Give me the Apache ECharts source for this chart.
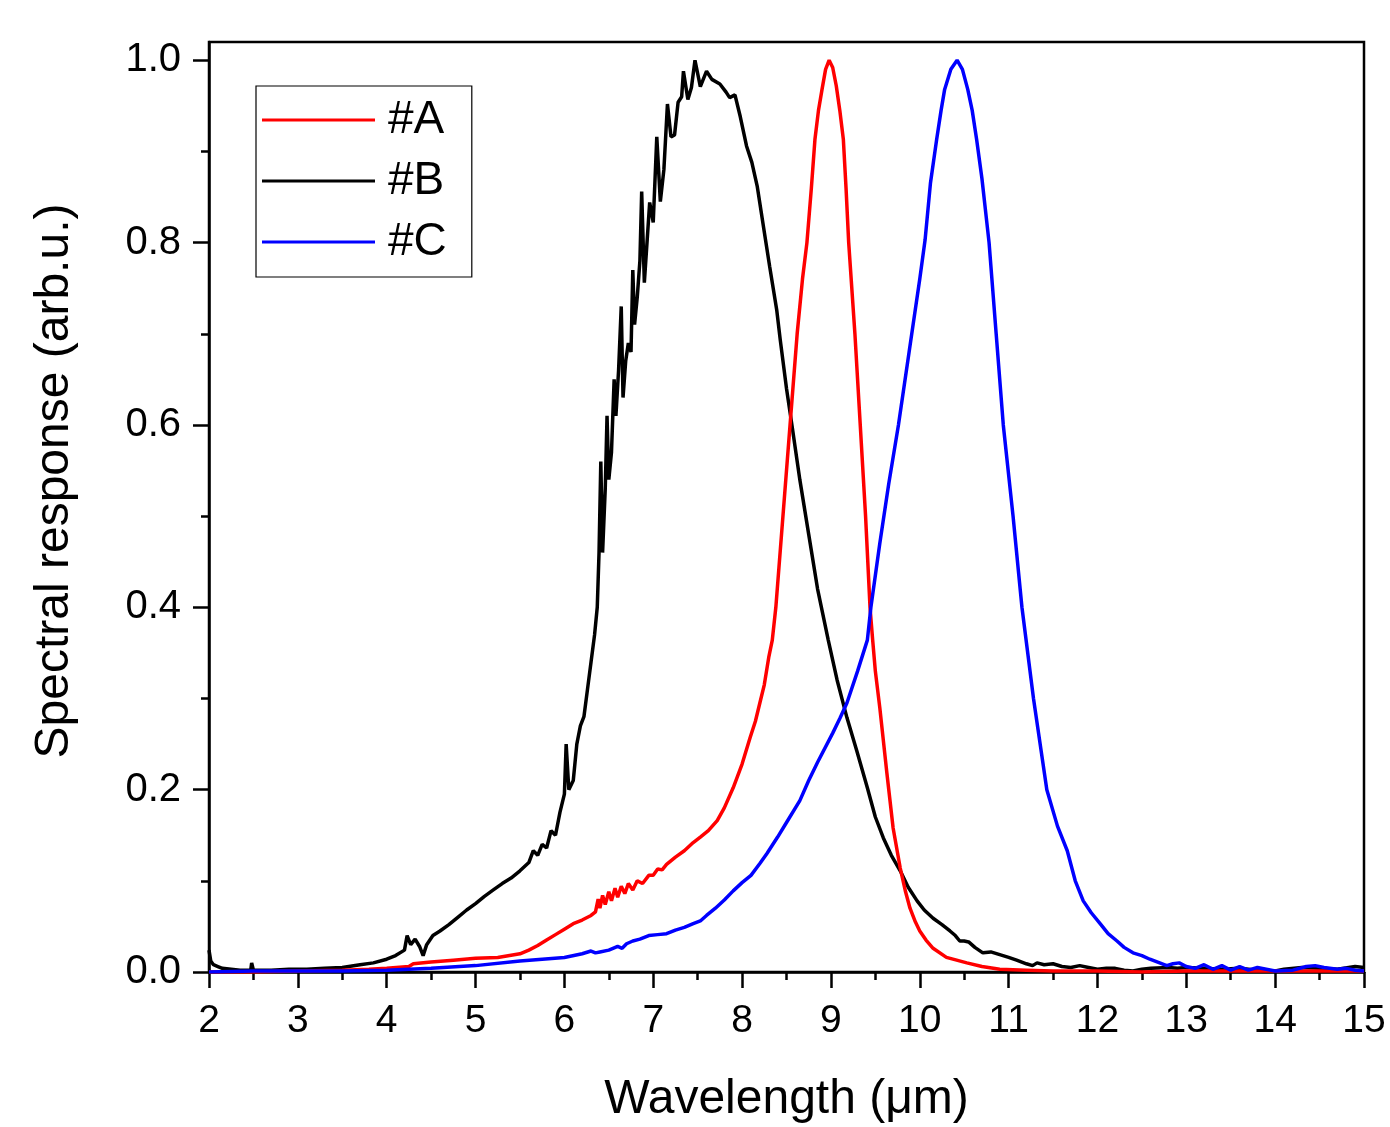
<!DOCTYPE html>
<html>
<head>
<meta charset="utf-8">
<script src="https://cdn.jsdelivr.net/npm/echarts@6/dist/echarts.min.js"></script>
<style>html,body{margin:0;padding:0;background:#fff}#c{width:1390px;height:1127px}</style>
</head>
<body>
<div id="c"></div>
<script>
// ---- data ----
const seriesNames = ['#A', '#B', '#C'];
const yTickValues = [0, 0.2, 0.4, 0.6, 0.8, 1.0];
const yMinorValues = [0.1, 0.3, 0.5, 0.7, 0.9];

const xA = [2.0,2.5,3.0,3.5,3.8,4.0,4.25,4.3,4.5,4.75,5.0,5.25,5.5,5.6,5.7,5.8,5.9,6.0,6.1,6.2,6.3,6.35,6.38,6.40,6.43,6.46,6.50,6.53,6.57,6.60,6.64,6.68,6.72,6.77,6.82,6.88,6.95,7.0,7.05,7.1,7.15,7.25,7.35,7.45,7.53,7.62,7.72,7.80,7.90,8.0,8.09,8.15,8.20,8.25,8.30,8.34,8.38,8.46,8.54,8.62,8.68,8.73,8.78,8.82,8.86,8.90,8.94,8.98,9.02,9.06,9.10,9.14,9.17,9.20,9.27,9.33,9.39,9.44,9.47,9.50,9.55,9.63,9.70,9.78,9.84,9.89,9.95,10.0,10.07,10.15,10.3,10.53,10.7,10.9,11.2,11.5,12.0,12.5,13.0,13.5,14.0,14.5,15.0];
const yA = [0.0,0.0,0.001,0.002,0.003,0.004,0.006,0.009,0.011,0.013,0.015,0.016,0.020,0.024,0.029,0.035,0.041,0.047,0.053,0.057,0.062,0.066,0.080,0.070,0.084,0.074,0.088,0.078,0.092,0.082,0.094,0.086,0.097,0.090,0.100,0.097,0.106,0.106,0.113,0.112,0.118,0.126,0.133,0.142,0.148,0.155,0.166,0.180,0.202,0.228,0.257,0.275,0.295,0.315,0.345,0.364,0.40,0.50,0.60,0.70,0.76,0.80,0.86,0.913,0.945,0.968,0.99,1.0,0.992,0.972,0.945,0.913,0.86,0.80,0.70,0.60,0.50,0.40,0.364,0.33,0.29,0.218,0.158,0.114,0.088,0.070,0.055,0.045,0.035,0.026,0.016,0.010,0.006,0.003,0.002,0.001,0.001,0.0,0.001,0.001,0.001,0.001,0.001];

const xB = [2.00,2.02,2.05,2.10,2.15,2.25,2.35,2.47,2.48,2.50,2.7,2.9,3.1,3.3,3.5,3.7,3.85,4.0,4.1,4.2,4.23,4.27,4.32,4.37,4.41,4.45,4.52,4.6,4.7,4.8,4.9,5.0,5.1,5.2,5.3,5.4,5.5,5.6,5.65,5.7,5.75,5.8,5.85,5.9,5.95,6.0,6.02,6.05,6.1,6.14,6.18,6.22,6.26,6.3,6.34,6.37,6.39,6.41,6.43,6.46,6.48,6.50,6.53,6.56,6.58,6.61,6.64,6.66,6.69,6.72,6.75,6.77,6.79,6.82,6.85,6.87,6.90,6.93,6.96,7.00,7.04,7.08,7.12,7.16,7.20,7.24,7.28,7.32,7.34,7.39,7.43,7.47,7.53,7.60,7.66,7.75,7.82,7.86,7.92,7.98,8.05,8.11,8.17,8.24,8.31,8.39,8.43,8.50,8.57,8.65,8.75,8.85,8.97,9.07,9.18,9.29,9.41,9.5,9.59,9.68,9.78,9.87,9.97,10.05,10.15,10.25,10.34,10.40,10.45,10.50,10.55,10.62,10.71,10.8,10.9,11.0,11.09,11.2,11.27,11.32,11.4,11.5,11.6,11.7,11.8,11.9,12.0,12.1,12.2,12.3,12.4,12.5,12.6,12.8,12.9,13.0,13.2,13.4,13.6,13.8,14.0,14.1,14.3,14.5,14.7,14.9,15.0];
const yB = [0.024,0.012,0.008,0.006,0.004,0.003,0.002,0.002,0.010,0.002,0.002,0.003,0.003,0.004,0.005,0.008,0.010,0.014,0.018,0.024,0.040,0.030,0.036,0.028,0.018,0.030,0.040,0.045,0.052,0.060,0.068,0.075,0.083,0.090,0.097,0.103,0.111,0.120,0.133,0.128,0.140,0.136,0.155,0.150,0.175,0.195,0.250,0.200,0.210,0.250,0.270,0.280,0.310,0.340,0.370,0.400,0.460,0.560,0.460,0.530,0.610,0.540,0.570,0.650,0.610,0.660,0.730,0.630,0.670,0.690,0.680,0.770,0.710,0.740,0.780,0.856,0.756,0.800,0.844,0.822,0.916,0.845,0.880,0.952,0.916,0.918,0.954,0.960,0.988,0.957,0.970,1.0,0.971,0.988,0.979,0.974,0.965,0.959,0.962,0.938,0.906,0.888,0.862,0.818,0.774,0.726,0.693,0.640,0.594,0.540,0.480,0.420,0.364,0.320,0.279,0.243,0.202,0.170,0.147,0.128,0.111,0.093,0.078,0.068,0.059,0.052,0.045,0.040,0.034,0.034,0.033,0.027,0.021,0.022,0.019,0.016,0.013,0.009,0.007,0.010,0.008,0.009,0.006,0.005,0.007,0.005,0.003,0.004,0.004,0.002,0.001,0.003,0.004,0.005,0.004,0.005,0.004,0.003,0.004,0.002,0.001,0.003,0.005,0.004,0.003,0.006,0.005];

const xC = [2.0,2.5,3.0,3.5,4.0,4.5,5.0,5.5,6.0,6.2,6.3,6.35,6.4,6.5,6.6,6.65,6.7,6.77,6.85,6.95,7.05,7.15,7.25,7.35,7.45,7.53,7.6,7.7,7.8,7.90,8.0,8.1,8.2,8.28,8.4,8.5,8.65,8.75,8.85,9.02,9.10,9.18,9.30,9.41,9.45,9.55,9.65,9.76,9.88,10.0,10.06,10.12,10.19,10.24,10.28,10.35,10.42,10.48,10.54,10.59,10.64,10.70,10.78,10.86,10.94,11.05,11.15,11.28,11.43,11.55,11.66,11.75,11.84,11.93,12.03,12.12,12.22,12.3,12.4,12.5,12.59,12.7,12.78,12.85,12.92,13.0,13.1,13.2,13.3,13.4,13.5,13.6,13.7,13.8,13.9,14.0,14.2,14.35,14.45,14.55,14.7,14.8,14.9,15.0];
const yC = [0.0,0.001,0.001,0.001,0.002,0.004,0.007,0.012,0.016,0.020,0.023,0.021,0.022,0.024,0.028,0.026,0.031,0.034,0.036,0.040,0.041,0.042,0.046,0.049,0.053,0.056,0.062,0.070,0.079,0.089,0.098,0.106,0.119,0.130,0.148,0.164,0.188,0.210,0.230,0.262,0.278,0.295,0.330,0.364,0.400,0.470,0.535,0.600,0.680,0.760,0.803,0.865,0.913,0.945,0.968,0.990,1.0,0.990,0.968,0.945,0.913,0.870,0.800,0.700,0.600,0.500,0.400,0.300,0.200,0.160,0.133,0.100,0.078,0.065,0.053,0.042,0.034,0.027,0.021,0.018,0.014,0.010,0.007,0.009,0.010,0.006,0.004,0.008,0.003,0.007,0.002,0.006,0.002,0.005,0.003,0.001,0.002,0.006,0.007,0.005,0.003,0.004,0.002,0.001];

const zip = (xs, ys) => xs.map((x, i) => [x, ys[i]]);

const FONT = 'Liberation Sans, Arial, sans-serif';
const chart = echarts.init(document.getElementById('c'), null, {renderer: 'canvas'});
const lineW = 3.5;
const option = {
  animation: false,
  backgroundColor: '#fff',
  grid: {left: 209, right: 26, top: 42, bottom: 155, outerBoundsMode: 'none', containLabel: false, show: true, borderColor: '#000', borderWidth: 2.5, backgroundColor: 'transparent'},
  legend: {
    orient: 'vertical', left: 256, top: 86,
    data: seriesNames.map(n => ({name: n, icon: 'rect'})),
    itemWidth: 113, itemHeight: 3, itemGap: 15,
    padding: [11, 25, 12, 6],
    borderColor: '#000', borderWidth: 1.2,
    textStyle: {fontSize: 46, fontFamily: FONT, color: '#000', padding: [0, 0, 0, 8]}
  },
  xAxis: {
    type: 'value', min: 2, max: 15, interval: 1,
    name: 'Wavelength (μm)', nameLocation: 'middle', nameGap: 104,
    nameTextStyle: {fontSize: 48, fontFamily: FONT, color: '#000'},
    axisLine: {show: true, lineStyle: {color: '#000', width: 2.5}},
    axisTick: {show: true, inside: false, length: 16, lineStyle: {color: '#000', width: 2.5}},
    minorTick: {show: true, splitNumber: 2, length: 8, lineStyle: {color: '#000', width: 2.5}},
    axisLabel: {fontSize: 39, fontFamily: FONT, color: '#000', margin: 30},
    splitLine: {show: false}, minorSplitLine: {show: false}
  },
  yAxis: [{
    type: 'value', min: 0, max: 1.02,
    name: 'Spectral response (arb.u.)', nameLocation: 'middle', nameGap: 130,
    nameTextStyle: {fontSize: 48, fontFamily: FONT, color: '#000', padding: [0, 0, 0, 52]},
    axisLine: {show: true, lineStyle: {color: '#000', width: 2.5}},
    axisTick: {show: true, inside: false, length: 16, customValues: yTickValues, lineStyle: {color: '#000', width: 2.5}},
    axisLabel: {fontSize: 40, fontFamily: FONT, color: '#000', margin: 28, customValues: yTickValues, formatter: v => v.toFixed(1)},
    splitLine: {show: false}
  }, {
    type: 'value', min: 0, max: 1.02, position: 'left',
    axisLine: {show: false},
    axisTick: {show: true, inside: false, length: 8, customValues: yMinorValues, lineStyle: {color: '#000', width: 2.5}},
    axisLabel: {show: false},
    splitLine: {show: false}
  }],
  series: [
    {name: '#B', type: 'line', data: zip(xB, yB), symbol: 'none', showSymbol: false, lineStyle: {color: '#000000', width: lineW}, itemStyle: {color: '#000000'}, z: 2},
    {name: '#A', type: 'line', data: zip(xA, yA), symbol: 'none', showSymbol: false, lineStyle: {color: '#ff0000', width: lineW}, itemStyle: {color: '#ff0000'}, z: 3},
    {name: '#C', type: 'line', data: zip(xC, yC), symbol: 'none', showSymbol: false, lineStyle: {color: '#0000ff', width: lineW}, itemStyle: {color: '#0000ff'}, z: 4}
  ]
};
chart.setOption(option);
</script>
</body>
</html>
